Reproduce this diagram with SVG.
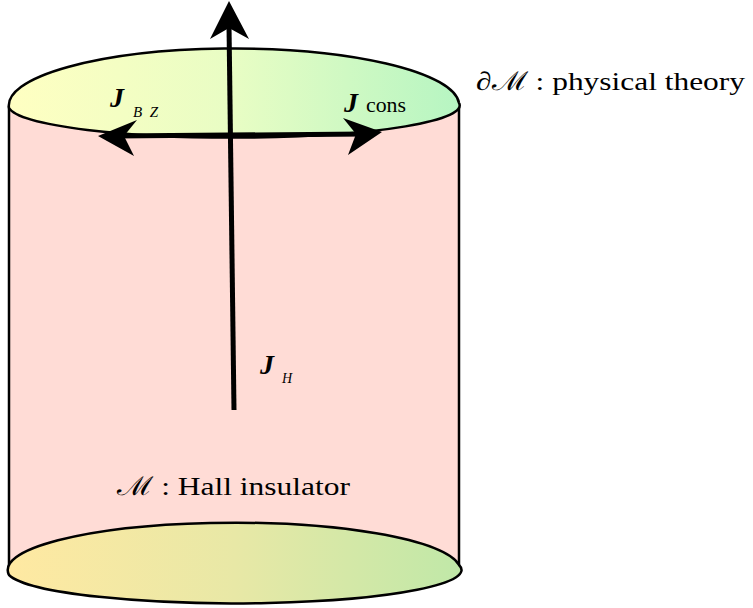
<svg xmlns="http://www.w3.org/2000/svg" width="753" height="608" viewBox="0 0 753 608">
<defs>
<linearGradient id="gTop" x1="0" y1="0" x2="1" y2="0">
<stop offset="0" stop-color="#FFFFC2"/>
<stop offset="0.5" stop-color="#E8FDC4"/>
<stop offset="1" stop-color="#B6F5C2"/>
</linearGradient>
<linearGradient id="gBot" x1="0" y1="0" x2="1" y2="0">
<stop offset="0" stop-color="#FFE9A2"/>
<stop offset="0.5" stop-color="#E8E8A6"/>
<stop offset="1" stop-color="#C0E8A8"/>
</linearGradient>
</defs>
<style>
.edge{stroke:#000;stroke-width:2.5;fill:none}
.arr{stroke:#000;stroke-width:5;fill:none}
.head{fill:#000;stroke:none}
text{font-family:'Liberation Serif','Times New Roman',serif;fill:#000}
.j{font-style:italic;font-weight:bold}
.sub{font-style:italic}
</style>
<g id="cylinder-body">
<path d="M9,108 L9,575 L459,565 L459,103 Z" fill="#FFDCD6" stroke="none"/>
<line class="edge" x1="9" y1="106" x2="9" y2="575"/>
<line class="edge" x1="459" y1="103" x2="459" y2="566"/>
</g>
<g id="bottom-face">
<path d="M9,575 A225,47 0 0 1 459,565 A225,33 0 0 1 9,575 Z" fill="url(#gBot)" stroke="#000" stroke-width="2.5"/>
</g>
<g id="top-face">
<path d="M9,108 A225,57 0 0 1 459,103 A225,32 0 0 1 9,108 Z" fill="url(#gTop)" stroke="#000" stroke-width="2.5"/>
</g>
<g id="connectors">
<line class="arr" x1="234" y1="410" x2="229" y2="25"/>
<polygon class="head" points="229,1 249,39 229,28 210,39"/>
<line class="arr" x1="115" y1="136" x2="365" y2="134"/>
<polygon class="head" points="98,136 137,120 124,136 134,156"/>
<polygon class="head" points="382,132 343,118 356,134 348,155"/>
</g>
<g id="label-jbz">
<text class="j" x="110" y="107" font-size="28">J</text>
<text class="sub" x="133" y="117" font-size="15" textLength="25" lengthAdjust="spacing">BZ</text>
</g>
<g id="label-jcons">
<text class="j" x="344" y="112" font-size="28">J</text>
<text x="366" y="112" font-size="20" textLength="40" lengthAdjust="spacingAndGlyphs">cons</text>
</g>
<g id="label-jh">
<text class="j" x="260" y="374" font-size="28">J</text>
<text class="sub" x="282" y="383" font-size="14">H</text>
</g>
<g id="label-boundary">
<text x="476" y="90" font-size="26" textLength="269" lengthAdjust="spacingAndGlyphs">∂ℳ : physical theory</text>
</g>
<g id="label-bulk">
<text x="117" y="495" font-size="26" textLength="233" lengthAdjust="spacingAndGlyphs">ℳ : Hall insulator</text>
</g>
</svg>
